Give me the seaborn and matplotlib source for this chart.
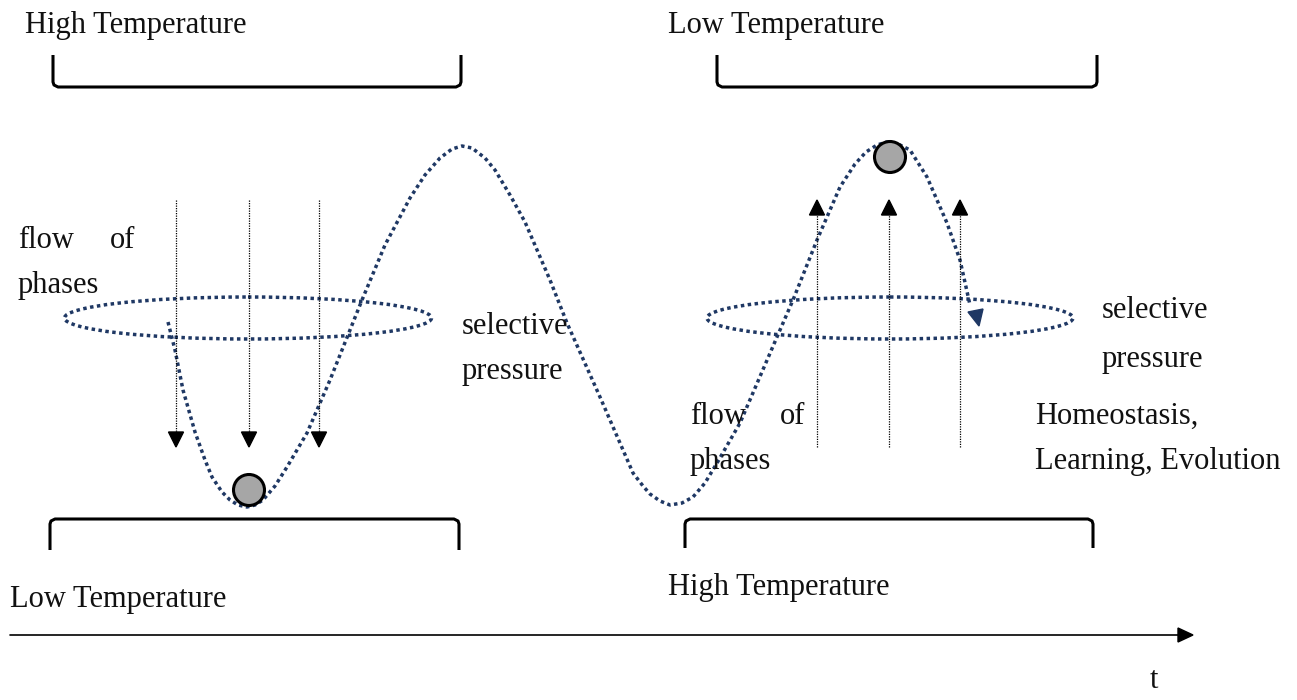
import numpy as np
import pandas as pd
import matplotlib
matplotlib.use("Agg")
import matplotlib.pyplot as plt
import seaborn as sns
from matplotlib.patches import Ellipse, Circle, Polygon

# waypoints of the dotted "landscape" curve (pixel coords, y down)
curve_x = [168, 175, 183, 195, 205, 212, 222, 230, 238, 247, 255, 263, 275, 287, 307, 330,
           362, 385, 410, 425, 440, 452, 462, 472, 485, 495, 510, 525, 550, 567, 600, 633,
           643, 650, 660, 670, 682, 693, 705, 717, 740, 780, 793, 817, 840, 855, 866, 877,
           887, 898, 910, 927, 947, 960, 970]
curve_y = [322, 350, 390, 432, 460, 477, 492, 500, 505, 507, 505, 500, 486, 467, 433, 380,
           300, 245, 198, 175, 158, 149, 146, 148, 158, 170, 195, 222, 280, 323, 397, 473,
           486, 494, 501, 505, 503, 497, 483, 463, 423, 330, 300, 240, 187, 164, 152, 145,
           142, 144, 150, 177, 223, 260, 305]

# ellipses (center x, center y, width, height)
ellipse_cx = [248, 890]
ellipse_cy = [318, 318]
ellipse_w = [367, 366]
ellipse_h = [42, 42]

# balls
ball_x = [249, 890]
ball_y = [490, 157]

# flow arrows
down_x = [176, 249, 319]
up_x = [817, 889, 960]
arrow_top, arrow_bot = 200, 447

# brackets: x0, x1, y_open, y_closed
bracket_x0 = [53, 717, 50, 685]
bracket_x1 = [461, 1097, 459, 1093]
bracket_yopen = [55, 55, 550, 548]
bracket_yline = [87, 87, 519, 519]

labels = [
    ("High Temperature", 25, 26),
    ("Low Temperature", 668, 26),
    ("flow", 18, 241),
    ("of", 110, 241),
    ("phases", 18, 286),
    ("selective", 462, 326),
    ("pressure", 462, 371),
    ("selective", 1102, 311),
    ("pressure", 1102, 359),
    ("flow", 690, 416),
    ("of", 780, 416),
    ("phases", 690, 461),
    ("Homeostasis,", 1035, 416),
    ("Learning, Evolution", 1035, 461),
    ("Low Temperature", 10, 600),
    ("High Temperature", 668, 587),
    ("t", 1150, 681),
]

navy = "#1f3864"
sns.set_theme(style="white")
plt.rcParams["font.family"] = ["Liberation Serif", "DejaVu Serif"]

fig = plt.figure(figsize=(12.97, 7), dpi=100)
ax = fig.add_axes([0, 0, 1, 1])

dots = (0, (1, 1.0))

# main curve
df = pd.DataFrame({"x": curve_x, "y": curve_y})
sns.lineplot(data=df, x="x", y="y", sort=False, ax=ax, color=navy, lw=2.5,
             linestyle=dots, dash_capstyle="butt")
ax.set_xlim(0, 1297)
ax.set_ylim(700, 0)
ax.axis("off")
# arrowhead at end of curve
ax.add_patch(Polygon([[968, 312], [983, 309], [979, 326]], closed=True,
                     color=navy, zorder=5))

for cx, cy, w, h in zip(ellipse_cx, ellipse_cy, ellipse_w, ellipse_h):
    ax.add_patch(Ellipse((cx, cy), w, h, fill=False, ec=navy, lw=2.5, linestyle=dots))

# flow arrows
for x in down_x:
    ax.plot([x, x], [arrow_top, arrow_bot - 14], color="black", lw=0.9, linestyle=(0, (1, 1)))
    ax.add_patch(Polygon([[x - 7.5, arrow_bot - 15], [x + 7.5, arrow_bot - 15], [x, arrow_bot]],
                         closed=True, color="black"))
for x in up_x:
    ax.plot([x, x], [arrow_bot, arrow_top + 14], color="black", lw=0.9, linestyle=(0, (1, 1)))
    ax.add_patch(Polygon([[x - 7.5, arrow_top + 15], [x + 7.5, arrow_top + 15], [x, arrow_top]],
                         closed=True, color="black"))

for bx, by in zip(ball_x, ball_y):
    ax.add_patch(Circle((bx, by), 15.5, fc="#a6a6a6", ec="black", lw=2.2, zorder=6))

# brackets
for x0, x1, yo, yl in zip(bracket_x0, bracket_x1, bracket_yopen, bracket_yline):
    s = 1 if yl > yo else -1
    xs = [x0, x0, x0 + 1, x0 + 5, x1 - 5, x1 - 1, x1, x1]
    ys = [yo, yl - 5 * s, yl - 2 * s, yl, yl, yl - 2 * s, yl - 5 * s, yo]
    ax.plot(xs, ys, color="black", lw=2.2, solid_joinstyle="round", solid_capstyle="butt")

# time axis
ax.plot([10, 1180], [635, 635], color="black", lw=1.2)
ax.add_patch(Polygon([[1178, 628], [1178, 642], [1193, 635]], closed=True, color="black"))

for txt, x, y in labels:
    ax.text(x, y, txt, fontsize=22, color="#111111", ha="left", va="center")

fig.savefig("out.png", dpi=100)
